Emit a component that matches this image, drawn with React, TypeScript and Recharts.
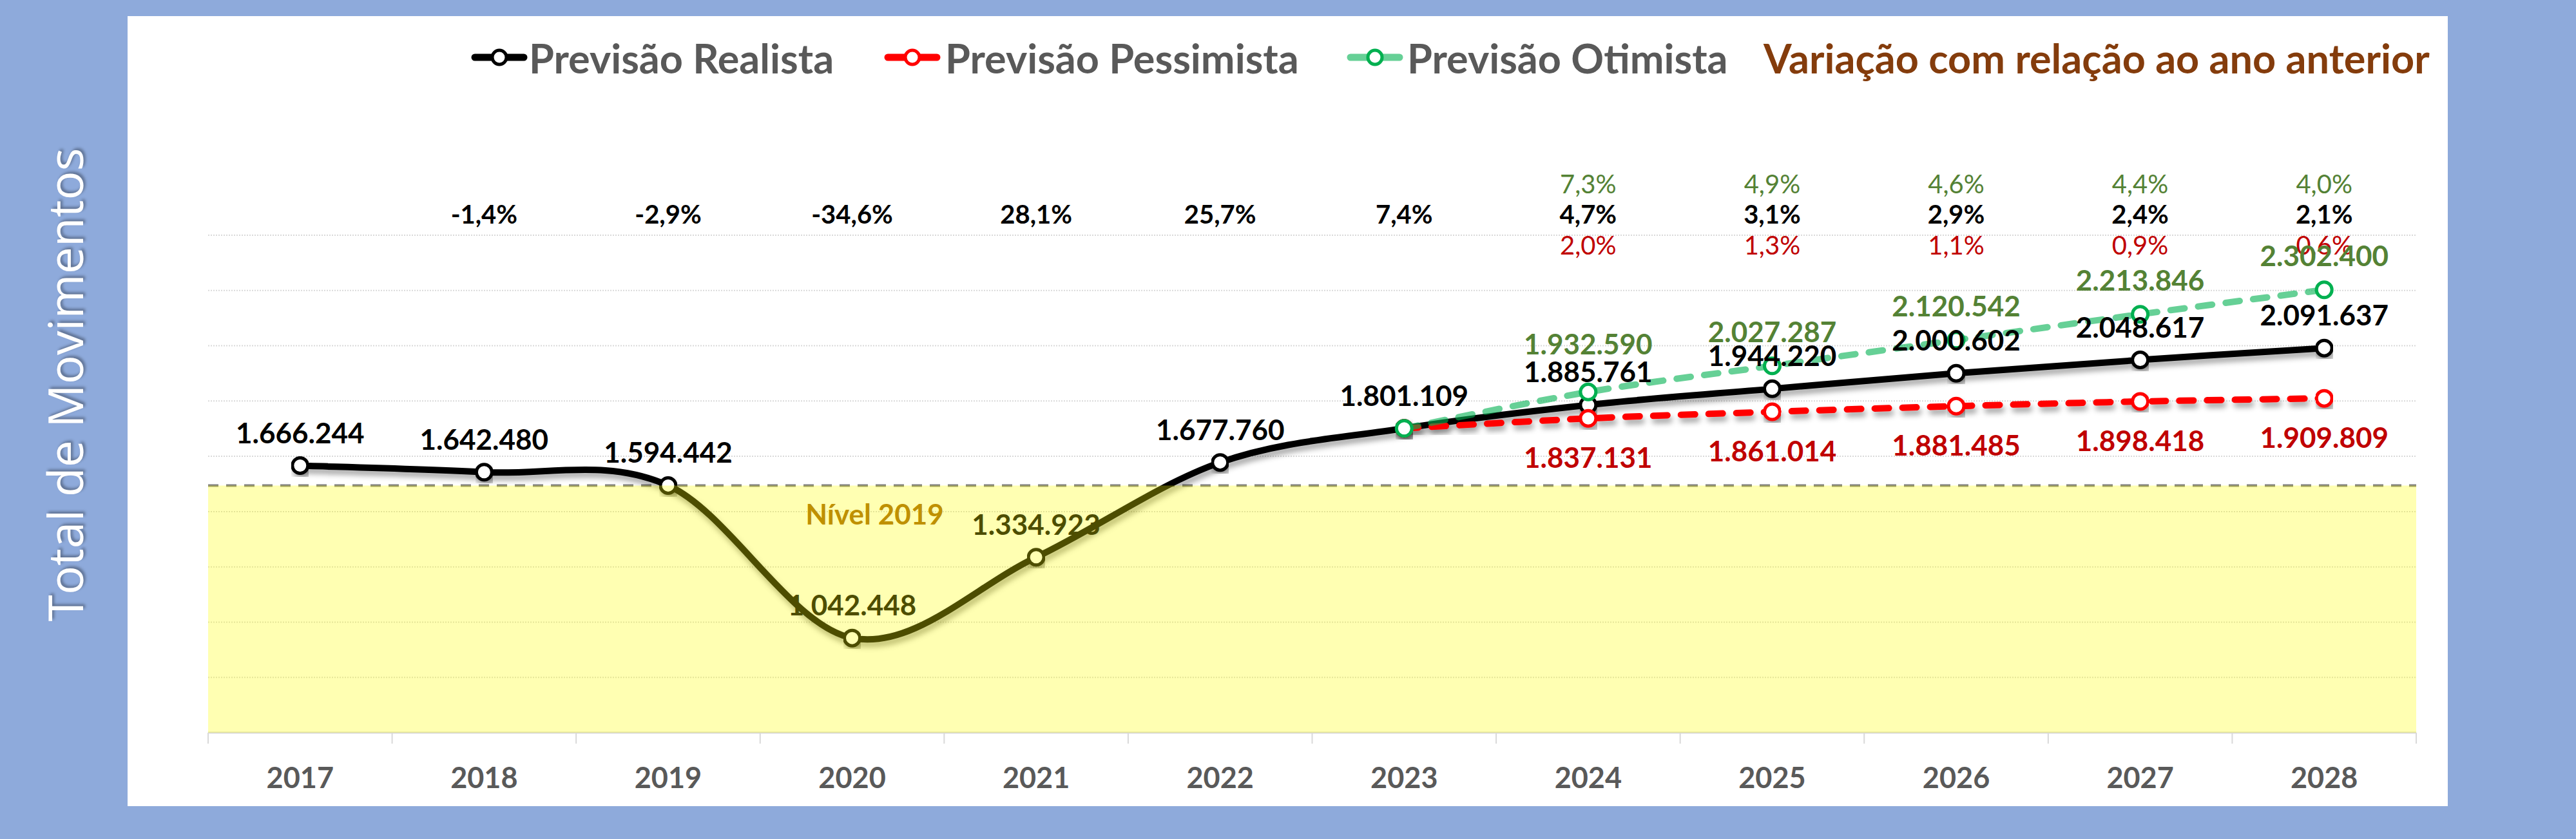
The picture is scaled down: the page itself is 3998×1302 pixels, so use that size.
import React from "react";
import {
  LineChart,
  Line,
  XAxis,
  YAxis,
  CartesianGrid,
  ReferenceLine,
  ReferenceArea,
  ReferenceDot,
  LabelList,
} from "recharts";

const YEARS = ["2017", "2018", "2019", "2020", "2021", "2022", "2023", "2024", "2025", "2026", "2027", "2028"];
const REALISTA = [1666244, 1642480, 1594442, 1042448, 1334923, 1677760, 1801109, 1885761, 1944220, 2000602, 2048617, 2091637];
const PESSIMISTA = [null, null, null, null, null, null, 1801109, 1837131, 1861014, 1881485, 1898418, 1909809];
const OTIMISTA = [null, null, null, null, null, null, 1801109, 1932590, 2027287, 2120542, 2213846, 2302400];

const VAR_REALISTA = ["", "-1,4%", "-2,9%", "-34,6%", "28,1%", "25,7%", "7,4%", "4,7%", "3,1%", "2,9%", "2,4%", "2,1%"];
const VAR_OTIMISTA = ["", "", "", "", "", "", "", "7,3%", "4,9%", "4,6%", "4,4%", "4,0%"];
const VAR_PESSIMISTA = ["", "", "", "", "", "", "", "2,0%", "1,3%", "1,1%", "0,9%", "0,6%"];

const Y_TICKS = [700000, 900000, 1100000, 1300000, 1500000, 1700000, 1900000, 2100000, 2300000, 2500000];
const NIVEL_2019 = 1594442;

const FONT = "Lato, 'Open Sans', sans-serif";
const BLUE = "#8EAADB";
const GRAY_TEXT = "#595959";
const GREEN_TEXT = "#548235";
const RED_TEXT = "#C00000";

const data = YEARS.map((year, i) => ({
  year,
  realista: REALISTA[i],
  pessimista: PESSIMISTA[i],
  otimista: OTIMISTA[i],
}));

// excel-like smoothed line (catmull-rom through the points)
function excelSmooth(context: any) {
  let pts: number[][] = [];
  return {
    areaStart() {},
    areaEnd() {},
    lineStart() {
      pts = [];
    },
    point(x: number, y: number) {
      pts.push([+x, +y]);
    },
    lineEnd() {
      if (!pts.length) return;
      context.moveTo(pts[0][0], pts[0][1]);
      for (let i = 0; i < pts.length - 1; i++) {
        const p0 = pts[i - 1] ?? pts[i];
        const p1 = pts[i];
        const p2 = pts[i + 1];
        const p3 = pts[i + 2] ?? p2;
        context.bezierCurveTo(
          p1[0] + (p2[0] - p0[0]) / 6,
          p1[1] + (p2[1] - p0[1]) / 6,
          p2[0] - (p3[0] - p1[0]) / 6,
          p2[1] - (p3[1] - p1[1]) / 6,
          p2[0],
          p2[1]
        );
      }
    },
  };
}

const fmt = (v: number) => String(Math.round(v)).replace(/\B(?=(\d{3})+(?!\d))/g, ".");

// label offsets; the first forecast green label sits a bit higher, as in the original
const valueLabel = (color: string, dy: number, skipFirst: boolean, shifted: Record<string, number> = {}) => (props: any) => {
  const { x, y, value, index } = props;
  if (value == null) return null;
  if (skipFirst && YEARS[index] === "2023") return null;
  const off = shifted[YEARS[index]] ?? dy;
  return (
    <text
      x={x}
      y={y + off}
      fill={color}
      fontFamily={FONT}
      fontWeight={700}
      fontSize={44}
      textAnchor="middle"
      dominantBaseline="central"
    >
      {fmt(value)}
    </text>
  );
};

const BottomTick = (props: any) => {
  const { x, y, payload, index, visibleTicksCount, width } = props;
  const half = payload.offset > 0 ? payload.offset : width / visibleTicksCount / 2;
  return (
    <g>
      <line x1={x - half} x2={x - half} y1={y} y2={y + 17} stroke="#D9D9D9" strokeWidth={2} />
      {index === visibleTicksCount - 1 && (
        <line x1={x + half} x2={x + half} y1={y} y2={y + 17} stroke="#D9D9D9" strokeWidth={2} />
      )}
      <text
        x={x}
        y={y + 69}
        fill={GRAY_TEXT}
        fontFamily={FONT}
        fontWeight={700}
        fontSize={45}
        textAnchor="middle"
        dominantBaseline="central"
      >
        {payload.value}
      </text>
    </g>
  );
};

const TopTick = (props: any) => {
  const { x, y, index } = props;
  const common = { x, fontFamily: FONT, fontSize: 40, textAnchor: "middle" as const, dominantBaseline: "central" as const };
  return (
    <g>
      <text {...common} y={y - 80} fill={GREEN_TEXT}>{VAR_OTIMISTA[index]}</text>
      <text {...common} y={y - 33} fill="#000" fontWeight={700}>{VAR_REALISTA[index]}</text>
      <text {...common} y={y + 15} fill={RED_TEXT}>{VAR_PESSIMISTA[index]}</text>
    </g>
  );
};

const NivelLabel = (props: any) => {
  const { viewBox } = props;
  const cx = viewBox.x + viewBox.width / 2;
  const cy = viewBox.y + viewBox.height / 2;
  return (
    <text
      x={cx + 35}
      y={cy + 44}
      fill="#BF9000"
      fontFamily={FONT}
      fontWeight={700}
      fontSize={44}
      textAnchor="middle"
      dominantBaseline="central"
    >
      Nível 2019
    </text>
  );
};

function LegendIcon({ x, color, fill, opacity = 1 }: { x: number; color: string; fill: string; opacity?: number }) {
  return (
    <g>
      <line x1={x - 38} x2={x + 38} y1={89} y2={89} stroke={fill} strokeOpacity={opacity} strokeWidth={11} strokeLinecap="round" />
      <circle cx={x} cy={89} r={11} fill="#fff" stroke={color} strokeWidth={5} />
    </g>
  );
}

function TopLegend() {
  const txt = { fontFamily: FONT, fontWeight: 700, fontSize: 63, dominantBaseline: "central" as const };
  return (
    <svg width={3998} height={170} style={{ position: "absolute", left: 0, top: 0 }}>
      <LegendIcon x={775} color="#000" fill="#000" />
      <text {...txt} x={821} y={89} fill={GRAY_TEXT}>Previsão Realista</text>
      <LegendIcon x={1416} color="#FF0000" fill="#FF0000" />
      <text {...txt} x={1467} y={89} fill={GRAY_TEXT}>Previsão Pessimista</text>
      <LegendIcon x={2134} color="#00B050" fill="#00B050" opacity={0.6} />
      <text {...txt} x={2184} y={89} fill={GRAY_TEXT}>Previsão Otimista</text>
      <text {...txt} x={2737} y={89} fill="#843C0C">Variação com relação ao ano anterior</text>
    </svg>
  );
}

export default function App() {
  return (
    <div style={{ position: "absolute", left: 0, top: 0, width: 3998, height: 1302, background: BLUE, overflow: "hidden" }}>
      <div style={{ position: "absolute", left: 198, top: 25, width: 3601, height: 1226, background: "#fff" }} />
      <div
        style={{
          position: "absolute",
          left: 100,
          top: 597,
          transform: "translate(-50%, -50%) rotate(-90deg)",
          whiteSpace: "nowrap",
          color: "#fff",
          fontFamily: "'Open Sans', sans-serif",
          fontSize: 75,
          textShadow: "3px 3px 4px rgba(0,0,0,0.35)",
        }}
      >
        Total de Movimentos
      </div>
      <div style={{ position: "absolute", left: 0, top: 0 }}>
        <LineChart width={3998} height={1302} data={data} margin={{ top: 325, right: 248, bottom: 65, left: 323 }}>
          <defs>
            <filter id="lineShadow" x="-5%" y="-20%" width="110%" height="140%">
              <feDropShadow dx="3" dy="7" stdDeviation="4" floodColor="#000" floodOpacity="0.35" />
            </filter>
          </defs>
          <CartesianGrid vertical={false} stroke="#D9D9D9" strokeWidth={2} strokeDasharray="2 2" />
          <XAxis
            dataKey="year"
            scale="band"
            height={100}
            tickSize={0}
            tickMargin={0}
            axisLine={{ stroke: "#D9D9D9", strokeWidth: 3 }}
            tick={<BottomTick />}
            interval={0}
          />
          <XAxis
            dataKey="year"
            xAxisId="pct"
            scale="band"
            orientation="top"
            height={40}
            tickSize={0}
            tickMargin={0}
            axisLine={false}
            tick={<TopTick />}
            interval={0}
          />
          <YAxis hide width={0} domain={[700000, 2500000]} ticks={Y_TICKS} />
          <ReferenceLine y={NIVEL_2019} stroke="#7F7F7F" strokeWidth={4} strokeDasharray="16 12" />
          <Line
            dataKey="realista"
            type={excelSmooth as any}
            stroke="#000"
            strokeWidth={10}
            filter="url(#lineShadow)"
            dot={{ r: 12, fill: "#fff", stroke: "#000", strokeWidth: 5 }}
            isAnimationActive={false}
          >
            <LabelList dataKey="realista" content={valueLabel("#000", -52, false)} />
          </Line>
          <Line
            dataKey="pessimista"
            type={excelSmooth as any}
            stroke="#FF0000"
            strokeWidth={10}
            strokeDasharray="22 21"
            strokeLinecap="round"
            filter="url(#lineShadow)"
            dot={{ r: 12, fill: "#fff", stroke: "#FF0000", strokeWidth: 5, strokeDasharray: "none" }}
            isAnimationActive={false}
          >
            <LabelList dataKey="pessimista" content={valueLabel(RED_TEXT, 60, true)} />
          </Line>
          <Line
            dataKey="otimista"
            type={excelSmooth as any}
            stroke="#00B050"
            strokeOpacity={0.6}
            strokeWidth={10}
            strokeDasharray="22 21"
            strokeLinecap="round"
            dot={{ r: 12, fill: "#fff", stroke: "#00B050", strokeOpacity: 1, strokeWidth: 5, strokeDasharray: "none" }}
            isAnimationActive={false}
          >
            <LabelList dataKey="otimista" content={valueLabel(GREEN_TEXT, -54, true, { "2024": -75 })} />
          </Line>
          <ReferenceArea y1={700000} y2={NIVEL_2019} fill="#FFFF00" fillOpacity={0.3} stroke="none" zIndex={2500} />
          <ReferenceDot x="2020" y={NIVEL_2019} r={0} stroke="none" zIndex={2600} label={{ content: <NivelLabel />, zIndex: 2700 } as any} />
        </LineChart>
      </div>
      <TopLegend />
    </div>
  );
}
